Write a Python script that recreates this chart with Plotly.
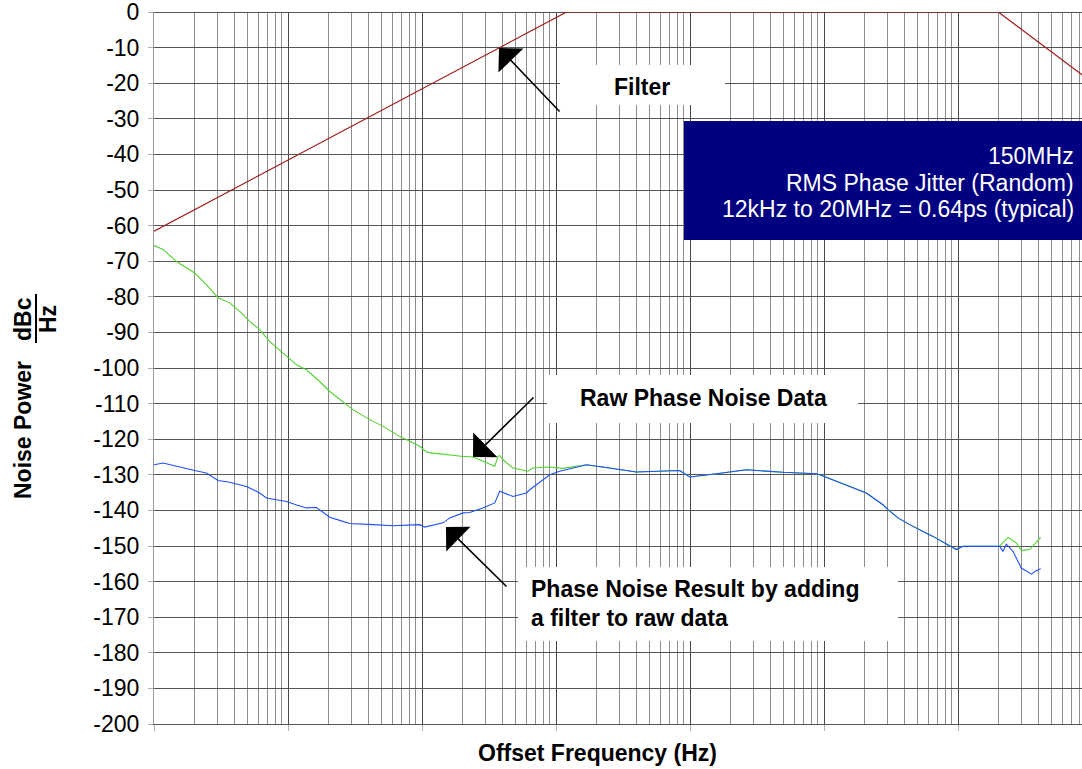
import plotly.graph_objects as go

# ---------------- data ----------------
filter_freq = [10, 12000, 20000000, 100000000]
filter_db = [-61.6, 0, 0, -19.7]

raw_freq = [10, 11.7, 14.7, 20.1, 24.6, 30.1, 36.7, 43.7, 51.8, 61.5, 72.9, 86.7,
            116, 137, 167, 205, 243, 305, 407, 512, 682, 809, 962, 1079, 1208,
            1968, 2404, 3388, 3491, 3690, 3802, 4140, 4775, 6180, 6699, 8974, 11270,
            16870, 25180, 39810, 83750, 99540, 157400, 263600, 494300, 659200,
            877000, 929000, 1167000, 1954000, 2070000, 2754000, 3006000, 3565000,
            4355000, 6501000, 9727000, 10890000, 20460000,
            21680000, 23600000, 27290000, 29850000, 34280000, 41400000]
raw_db = [-65.6, -66.7, -70.1, -73.3, -76.6, -80.3, -81.7, -84.1, -86.9, -89.2, -92.5, -94.9,
          -99.1, -100.5, -103.3, -106.6, -108.7, -111.7, -114.5, -116.4, -119.2, -120.6, -122.0,
          -123.6, -123.9, -124.8, -125.0, -127.4, -127.6, -124.8, -124.6, -126.2, -128.1, -129.0,
          -128.1, -127.8, -128.2,
          -127.2, -128.1, -129.2, -128.8, -130.6, -129.7, -128.6, -129.3, -129.5,
          -129.7, -130.0, -131.4, -134.7, -135.1, -138.4, -139.8, -142.1,
          -144.0, -147.3, -151.0, -150.1, -150.1,
          -149.0, -147.6, -149.2, -151.3, -151.0, -147.6]

result_freq = [10, 11.7, 20.1, 24.6, 30.1, 36.7, 49.0, 61.5, 69.0, 97.3, 116, 137, 163,
               205, 243, 288, 431, 608, 962, 1047, 1435, 1611, 2023, 2270, 2851, 3388,
               3491, 3802, 4775, 6012, 6368, 7145, 8974, 10670,
               16870, 25180, 39810, 83750, 99540, 157400, 263600, 494300, 659200,
               877000, 929000, 1167000, 1954000, 2070000, 2754000, 3006000, 3565000,
               4355000, 6501000, 9727000, 10890000, 20460000,
               21680000, 22960000, 25700000, 29720000, 35320000, 38020000, 41400000]
result_db = [-127.2, -126.7, -128.8, -129.5, -131.6, -132.1, -133.3, -135.1, -136.5, -137.5,
             -138.5, -139.3, -139.2, -141.9, -142.8, -143.7, -144.0, -144.3, -144.0, -144.7,
             -143.5, -142.1, -140.7, -140.6, -139.3, -138.1, -137.9, -134.6, -136.1, -135.1,
             -134.2, -132.8, -130.0, -129.0,
             -127.2, -128.1, -129.2, -128.8, -130.6, -129.7, -128.6, -129.3, -129.5,
             -129.7, -130.0, -131.4, -134.7, -135.1, -138.4, -139.8, -142.1,
             -144.0, -147.3, -151.0, -150.1, -150.1,
             -151.5, -149.5, -151.5, -156.2, -157.9, -157.0, -156.4]

y_tick_values = list(range(-200, 1, 10))
y_tick_labels = [str(v) for v in y_tick_values]
decades = [10, 100, 1000, 10000, 100000, 1000000, 10000000]

info_lines = ["150MHz", "RMS Phase Jitter (Random)", "12kHz to 20MHz = 0.64ps (typical)"]

# ---------------- layout geometry ----------------
W, H = 1082, 769
L, R, T, B = 154, 0, 12, 45
PW, PH = W - L - R, H - T - B
DEC_PX = 134.0
FONT = "Liberation Sans, Arial, Helvetica, sans-serif"


def px(x):
    return (x - L) / PW


def py(y):
    return (H - B - y) / PH


minor_vals = [m * d for d in decades + [100000000] for m in range(2, 10)]

fig = go.Figure()
fig.add_trace(go.Scatter(x=raw_freq, y=raw_db, mode="lines",
                         line=dict(color="#4fd12f", width=1.1), name="Raw"))
fig.add_trace(go.Scatter(x=result_freq, y=result_db, mode="lines",
                         line=dict(color="#1f4fff", width=1.1), name="Result"))
fig.add_trace(go.Scatter(x=filter_freq, y=filter_db, mode="lines",
                         line=dict(color="#a01818", width=1.2), name="Filter"))

fig.update_layout(
    width=W, height=H, margin=dict(l=L, r=R, t=T, b=B),
    paper_bgcolor="white", plot_bgcolor="white", showlegend=False,
    font=dict(family=FONT, color="black"),
    xaxis=dict(type="log", range=[1, 1 + PW / DEC_PX], tickvals=decades,
               showticklabels=False, ticks="outside", ticklen=6, tickcolor="#b0b0b0",
               showgrid=True, gridcolor="#4a4a4a", gridwidth=1,
               minor=dict(tickvals=minor_vals, showgrid=True, gridcolor="#8c8c8c",
                          gridwidth=1, ticks=""),
               showline=True, linecolor="#555555", linewidth=1, zeroline=False),
    yaxis=dict(range=[-200, 0], tickvals=y_tick_values, ticktext=y_tick_labels,
               ticks="outside", ticklen=5, tickcolor="#b0b0b0", ticklabelstandoff=4,
               ticklabeloverflow="allow",
               tickfont=dict(family=FONT, size=23, color="black"),
               showgrid=True, gridcolor="#555555", gridwidth=1,
               zeroline=True, zerolinecolor="#555555", zerolinewidth=1,
               showline=True, linecolor="#999999", linewidth=1),
)

shapes = [
    dict(type="rect", xref="paper", yref="paper", x0=px(560), x1=px(725), y0=py(105), y1=py(65),
         fillcolor="white", line=dict(width=0), layer="above"),
    dict(type="rect", xref="paper", yref="paper", x0=px(684), x1=px(1082), y0=py(240), y1=py(121),
         fillcolor="#000080", line=dict(width=0), layer="above"),
    dict(type="rect", xref="paper", yref="paper", x0=px(547), x1=px(858), y0=py(423), y1=py(375),
         fillcolor="white", line=dict(width=0), layer="above"),
    dict(type="rect", xref="paper", yref="paper", x0=px(518), x1=px(898), y0=py(641), y1=py(567),
         fillcolor="white", line=dict(width=0), layer="above"),
    dict(type="line", xref="paper", yref="paper", x0=px(36), x1=px(36), y0=py(343), y1=py(294),
         line=dict(color="black", width=2)),
]
fig.update_layout(shapes=shapes)

bold = dict(family=FONT, size=23, color="black", weight="bold")
ann = []
ann.append(dict(text="Filter", x=px(642), y=py(87), font=bold))
ann.append(dict(text="Raw Phase Noise Data", x=px(703), y=py(398), font=bold))
ann.append(dict(text="Phase Noise Result by adding", x=px(529), y=py(589), xanchor="left", font=bold))
ann.append(dict(text="a filter to raw data", x=px(529), y=py(618), xanchor="left", font=bold))
for line_text, yy in zip(info_lines, [156, 183, 209]):
    ann.append(dict(text=line_text, x=px(1076), y=py(yy), xanchor="right",
                    font=dict(family=FONT, size=23, color="white")))
ann.append(dict(text="Offset Frequency (Hz)", x=px(597), y=py(753), font=bold))
ann.append(dict(text="Noise Power", x=px(23), y=py(430), textangle=-90, font=bold))
ann.append(dict(text="dBc", x=px(23), y=py(319), textangle=-90, font=bold))
ann.append(dict(text="Hz", x=px(48), y=py(319), textangle=-90, font=bold))
for a in ann:
    a.update(xref="paper", yref="paper", showarrow=False)
    a.setdefault("xanchor", "center")
    a.setdefault("yanchor", "middle")

for tip, tail in [((499, 48), (561, 113)), ((473, 457), (535, 396)), ((446, 527), (508, 588))]:
    ann.append(dict(xref="paper", yref="paper", x=px(tip[0]), y=py(tip[1]), text="",
                    showarrow=True, arrowhead=1, arrowsize=3.6, arrowwidth=1.6,
                    arrowcolor="black", ax=tail[0] - tip[0], ay=tail[1] - tip[1]))
fig.update_layout(annotations=ann)

fig.write_html("out.html", config={"displayModeBar": False},
               post_script="document.body.style.margin='0px';")
